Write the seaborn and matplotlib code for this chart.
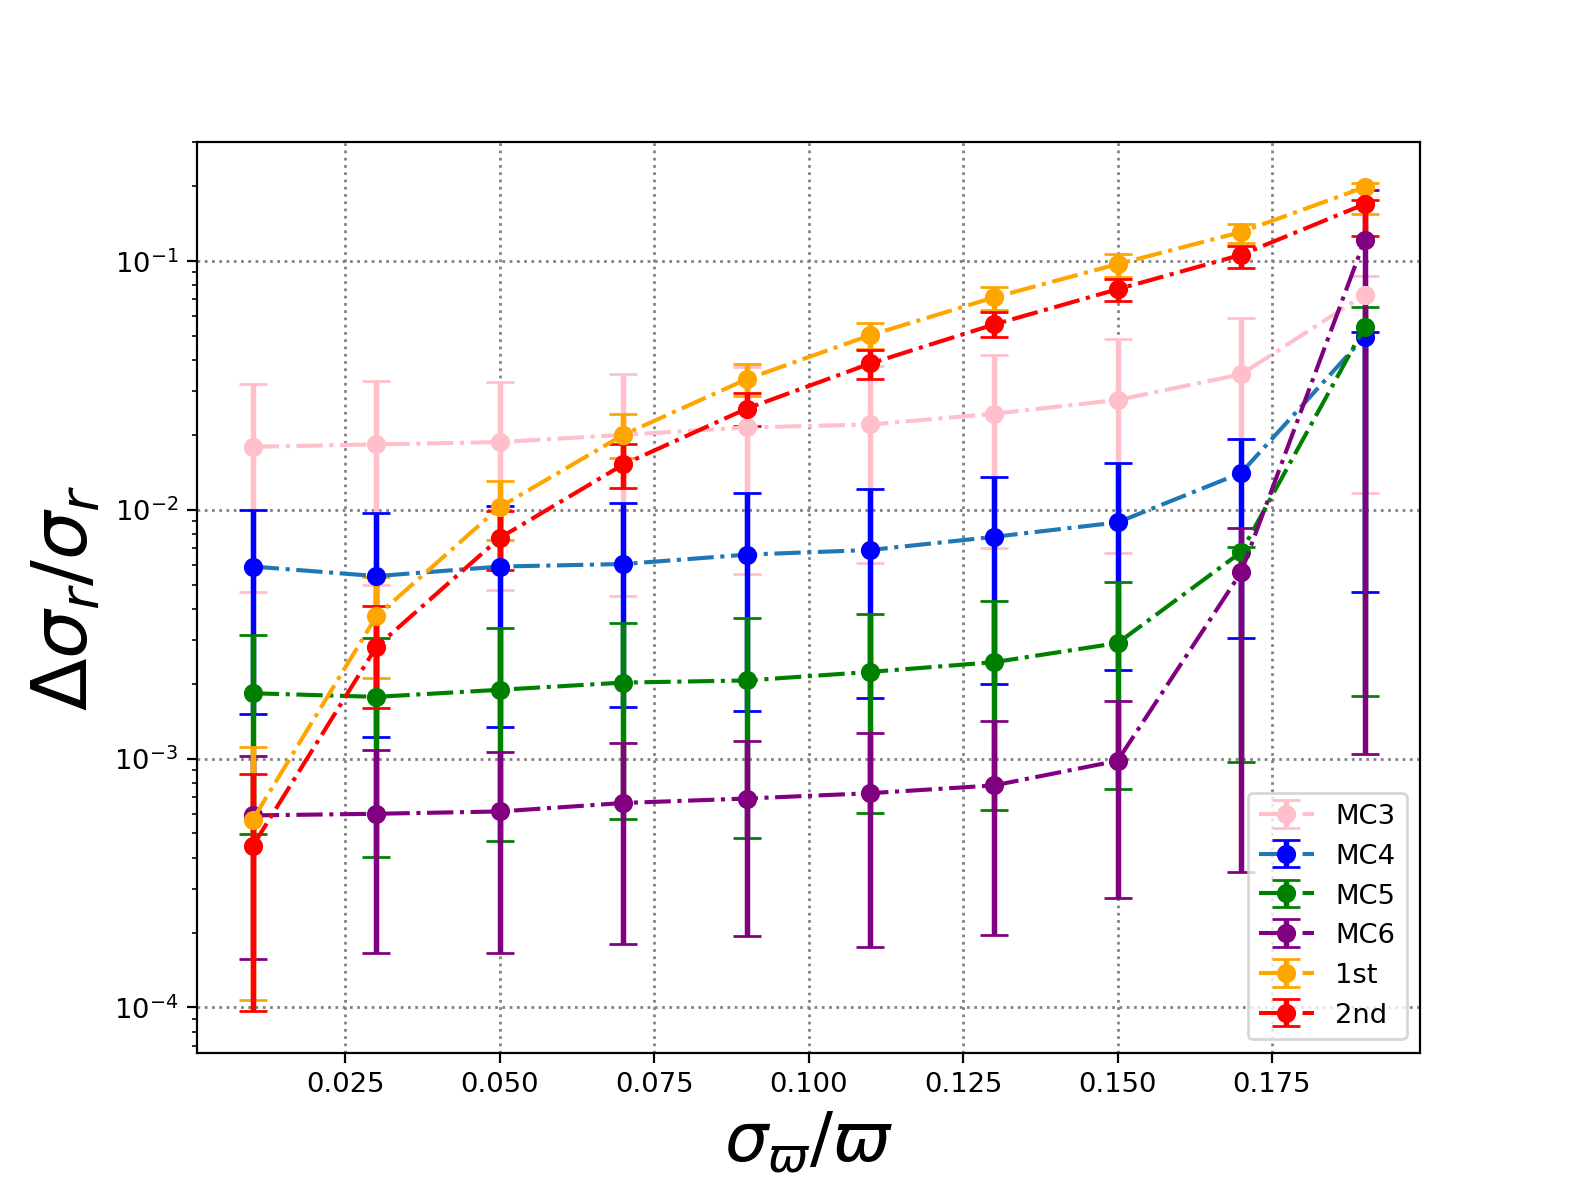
import numpy as np
import pandas as pd
import seaborn as sns
import matplotlib.pyplot as plt

# %%
x = [0.01, 0.03, 0.05, 0.07, 0.09, 0.11, 0.13, 0.15, 0.17, 0.19]

mc3 = [0.0179, 0.0183, 0.0187, 0.0200, 0.0214, 0.0220, 0.0243, 0.0276, 0.0350, 0.0731]
mc3_lo = [0.00467, 0.00499, 0.00476, 0.00450, 0.00553, 0.00611, 0.00699, 0.00670, 0.0192, 0.01167]
mc3_hi = [0.0319, 0.0328, 0.0325, 0.0350, 0.0373, 0.0378, 0.0418, 0.0484, 0.0587, 0.0866]

mc4 = [0.00591, 0.00541, 0.00591, 0.00605, 0.00660, 0.00689, 0.00778, 0.00889, 0.01405, 0.0496]
mc4_lo = [0.00151, 0.00122, 0.00134, 0.00161, 0.00155, 0.00175, 0.00200, 0.00227, 0.00306, 0.00468]
mc4_hi = [0.00997, 0.00969, 0.01035, 0.01067, 0.01164, 0.01216, 0.01354, 0.01535, 0.0192, 0.0516]

mc5 = [0.00183, 0.00177, 0.00189, 0.00202, 0.00206, 0.00223, 0.00244, 0.00291, 0.00675, 0.0542]
mc5_lo = [0.000496, 0.000401, 0.000466, 0.000574, 0.000479, 0.000603, 0.000620, 0.000755, 0.000973, 0.00179]
mc5_hi = [0.00314, 0.00305, 0.00334, 0.00349, 0.00366, 0.00382, 0.00431, 0.00512, 0.0071, 0.0652]

mc6 = [0.000591, 0.000600, 0.000613, 0.000663, 0.000691, 0.000726, 0.000780, 0.000980, 0.00560, 0.121]
mc6_lo = [0.000156, 0.000165, 0.000166, 0.000180, 0.000194, 0.000175, 0.000196, 0.000275, 0.000349, 0.00104]
mc6_hi = [0.00102, 0.00108, 0.00106, 0.00115, 0.00118, 0.00127, 0.00141, 0.00170, 0.00848, 0.193]

first = [0.000569, 0.00373, 0.01026, 0.0200, 0.0335, 0.0503, 0.0713, 0.0970, 0.1305, 0.1976]
first_lo = [0.000107, 0.00211, 0.00757, 0.0161, 0.0286, 0.0443, 0.0634, 0.0865, 0.118, 0.1542]
first_hi = [0.00111, 0.00535, 0.0131, 0.0242, 0.0385, 0.0564, 0.0788, 0.1067, 0.141, 0.2056]

second = [0.000446, 0.00281, 0.00771, 0.0152, 0.0255, 0.0387, 0.0555, 0.0769, 0.1057, 0.169]
second_lo = [0.0000964, 0.00159, 0.00571, 0.0122, 0.0217, 0.0334, 0.0494, 0.0688, 0.0934, 0.126]
second_hi = [0.000867, 0.00409, 0.00988, 0.0183, 0.0294, 0.0438, 0.0621, 0.0849, 0.1148, 0.176]

# %%
rows = []
for name, c, lo, hi in [('MC3', mc3, mc3_lo, mc3_hi), ('MC4', mc4, mc4_lo, mc4_hi),
                        ('MC5', mc5, mc5_lo, mc5_hi), ('MC6', mc6, mc6_lo, mc6_hi),
                        ('1st', first, first_lo, first_hi), ('2nd', second, second_lo, second_hi)]:
    for xi, ci, li, hi_ in zip(x, c, lo, hi):
        rows.append({'label': name, 'x': xi, 'y': ci, 'lo': li, 'hi': hi_})
df = pd.DataFrame(rows)

# line colour, marker/errorbar colour
colors = {
    'MC3': ('pink', 'pink'),
    'MC4': ('tab:blue', 'blue'),
    'MC5': ('green', 'green'),
    'MC6': ('purple', 'purple'),
    '1st': ('orange', 'orange'),
    '2nd': ('red', 'red'),
}

# %%
sns.set_style('ticks', rc={'xtick.direction': 'out', 'ytick.direction': 'out',
                           'axes.edgecolor': 'black', 'xtick.color': 'black',
                           'ytick.color': 'black', 'text.color': 'black',
                           'axes.labelcolor': 'black', 'xtick.major.size': 3.5,
                           'ytick.major.size': 3.5, 'axes.linewidth': 0.8})
plt.rcParams['font.family'] = ['DejaVu Sans']

fig, ax = plt.subplots(figsize=(8, 6), dpi=197.25)

for name, g in df.groupby('label', sort=False):
    lc, mc = colors[name]
    yerr = [g['y'] - g['lo'], g['hi'] - g['y']]
    ax.errorbar(g['x'], g['y'], yerr=yerr, fmt='o-.', color=lc, mfc=mc, mec=mc,
                ecolor=mc, elinewidth=2, capsize=5, capthick=1, markersize=6,
                linewidth=1.5, label=name)

ax.set_yscale('log')
ax.grid(True, which='major', linestyle=':', color='gray', linewidth=1)
ax.set_xlabel(r'$\sigma_\varpi/\varpi$', fontsize=25)
ax.set_ylabel(r'$\Delta\sigma_r/\sigma_r$', fontsize=28)
ax.legend(loc='lower right')

plt.savefig('out.png', dpi=197.25)
